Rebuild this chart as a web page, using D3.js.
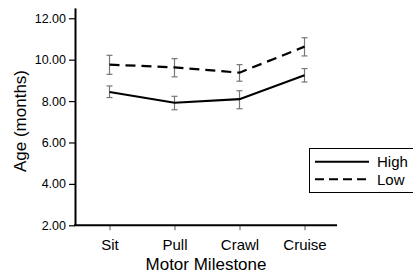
<!DOCTYPE html>
<html><head><meta charset="utf-8">
<script src="https://cdn.jsdelivr.net/npm/d3@7"></script>
<style>body{margin:0;background:#fff}svg{display:block}</style>
</head><body>
<svg id="c" width="413" height="274"></svg>
<script>
const categories = ["Sit", "Pull", "Crawl", "Cruise"];
const highMean = [8.44, 7.92, 8.09, 9.25];
const highUpper = [8.73, 8.23, 8.50, 9.57];
const highLower = [8.17, 7.58, 7.63, 8.92];
const lowMean = [9.76, 9.63, 9.37, 10.63];
const lowUpper = [10.21, 10.05, 9.76, 11.06];
const lowLower = [9.29, 9.17, 8.96, 10.18];
const yTicks = [2, 4, 6, 8, 10, 12];
const seriesNames = ["High", "Low"];

const svg = d3.select("#c");
const font = "Arial, 'Liberation Sans', Helvetica, sans-serif";
const x = d3.scalePoint().domain(categories).range([77, 337]).padding(0.5);
const y = d3.scaleLinear().domain([2, 12.5]).range([225.3, 7.9]);

// Y axis
const ya = svg.append("g").attr("transform", "translate(75,0)")
  .call(d3.axisLeft(y).tickValues(yTicks).tickFormat(d3.format(".2f")).tickSize(6).tickPadding(3).tickSizeOuter(0));
ya.select(".domain").attr("stroke-width", 2);
ya.selectAll(".tick line").attr("stroke-width", 1.2);
ya.selectAll("text").attr("font-family", font).attr("font-size", 12.5).attr("fill", "#000");

// X axis
const xa = svg.append("g").attr("transform", "translate(0,225.3)")
  .call(d3.axisBottom(x).tickSize(5).tickPadding(9).tickSizeOuter(0));
xa.select(".domain").remove();
xa.append("line").attr("x1", 74).attr("x2", 337).attr("stroke", "#000").attr("stroke-width", 2);
xa.selectAll(".tick line").attr("stroke", "#777").attr("stroke-width", 1.2);
xa.selectAll("text").attr("font-family", font).attr("font-size", 15).attr("fill", "#000");

// Titles
svg.append("text").attr("transform", "translate(26,121) rotate(-90)")
  .attr("text-anchor", "middle").attr("font-family", font).attr("font-size", 17).text("Age (months)");
svg.append("text").attr("x", 206).attr("y", 270)
  .attr("text-anchor", "middle").attr("font-family", font).attr("font-size", 17).text("Motor Milestone");

// Error bars
function errBars(up, lo) {
  const g = svg.append("g").attr("stroke", "#777").attr("stroke-width", 1.2);
  categories.forEach((c, i) => {
    const cx = x(c);
    g.append("line").attr("x1", cx).attr("x2", cx).attr("y1", y(up[i])).attr("y2", y(lo[i]));
    g.append("line").attr("x1", cx - 3).attr("x2", cx + 3).attr("y1", y(up[i])).attr("y2", y(up[i]));
    g.append("line").attr("x1", cx - 3).attr("x2", cx + 3).attr("y1", y(lo[i])).attr("y2", y(lo[i]));
  });
}
errBars(highUpper, highLower);
errBars(lowUpper, lowLower);

const line = d3.line().x((d, i) => x(categories[i])).y(d => y(d));
svg.append("path").datum(highMean).attr("d", line).attr("fill", "none")
  .attr("stroke", "#000").attr("stroke-width", 2.2);
svg.append("path").datum(lowMean).attr("d", line).attr("fill", "none")
  .attr("stroke", "#000").attr("stroke-width", 2.2).attr("stroke-dasharray", "10,6");

// Legend
const lg = svg.append("g");
lg.append("rect").attr("x", 309.5).attr("y", 148.5).attr("width", 120).attr("height", 44)
  .attr("fill", "#fff").attr("stroke", "#000").attr("stroke-width", 1);
const dashes = [null, "9,5"];
seriesNames.forEach((n, i) => {
  const ly = 161.7 + i * 17.6;
  lg.append("line").attr("x1", 315).attr("x2", 369).attr("y1", ly).attr("y2", ly)
    .attr("stroke", "#000").attr("stroke-width", 2).attr("stroke-dasharray", dashes[i]);
  lg.append("text").attr("x", 377).attr("y", ly + 5.3).attr("font-family", font)
    .attr("font-size", 15).text(n);
});
</script>
</body></html>
